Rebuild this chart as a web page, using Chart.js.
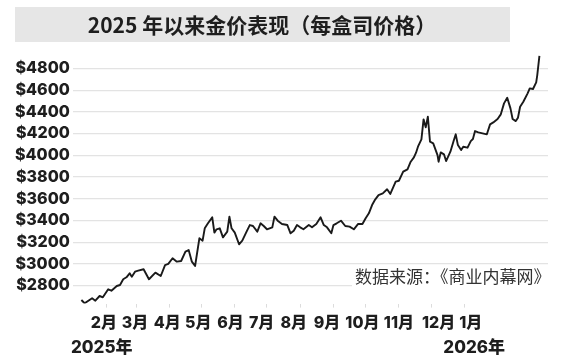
<!DOCTYPE html>
<html lang="zh">
<head>
<meta charset="utf-8">
<title>2025 年以来金价表现</title>
<script src="https://cdn.jsdelivr.net/npm/chart.js@4.4.1/dist/chart.umd.min.js"></script>
<style>
  html, body { margin: 0; padding: 0; background: #ffffff; }
  #wrap { position: relative; width: 579px; height: 359px; }
</style>
</head>
<body>
<div id="wrap"><canvas id="goldChart"></canvas></div>
<script>
/* =========================================
   DATA (days since 2025-01-01, USD / oz)
   ========================================= */

const days = [
  8, 11, 18, 21, 25, 28, 33, 36, 41, 44, 47, 50, 53, 55, 58, 61, 66, 71, 77, 82,
  86, 89, 93, 97, 101, 105, 108, 111, 114, 118, 121, 123, 126, 130, 132, 134, 137, 140, 144, 146,
  148, 151, 155, 158, 162, 165, 168, 172, 175, 178, 181, 186, 188, 191, 195, 200, 203, 206, 209, 212,
  215, 220, 223, 227, 231, 234, 237, 241, 243, 246, 250, 254, 258, 262, 266, 270, 273, 276, 279, 282,
  285, 289, 293, 296, 301, 304, 308, 312, 315, 318, 320, 322, 325, 327, 329, 331, 333, 336, 340, 341,
  343, 346, 348, 352, 355, 357, 359, 362, 364, 368, 371, 373, 375, 378, 382, 386, 389, 392, 396, 399,
  402, 405, 408, 410, 413, 415, 417, 420, 424, 426, 429, 432, 433, 435
];

const prices = [
  2668, 2638, 2684, 2662, 2705, 2693, 2767, 2754, 2797, 2806, 2859, 2877, 2914, 2883, 2929, 2938, 2951, 2859, 2920, 2889,
  2990, 3000, 3052, 3021, 3027, 3113, 3128, 3021, 2981, 3236, 3214, 3328, 3374, 3429, 3288, 3319, 3328, 3245, 3297, 3435,
  3328, 3288, 3181, 3214, 3297, 3358, 3349, 3297, 3374, 3349, 3319, 3337, 3435, 3398, 3368, 3358, 3282, 3306, 3358, 3337,
  3319, 3358, 3337, 3368, 3429, 3358, 3337, 3282, 3358, 3374, 3398, 3349, 3343, 3319, 3368, 3368, 3420, 3466, 3542, 3595,
  3634, 3650, 3687, 3644, 3757, 3766, 3849, 3871, 3941, 3981, 4024, 4085, 4147, 4331, 4257, 4355, 4125, 4110, 4002, 3941,
  4027, 4009, 3947, 4033, 4131, 4193, 4094, 4048, 4079, 4070, 4131, 4150, 4223, 4211, 4202, 4193, 4285, 4303, 4334, 4377,
  4478, 4530, 4432, 4334, 4315, 4346, 4447, 4493, 4570, 4616, 4610, 4671, 4738, 4916
];

// month tick marks (first day of each month, days since 2025-01-01)
const monthDays = [31, 59, 90, 120, 151, 181, 212, 243, 273, 304, 334, 365];
// where the month names sit in the original (a bit off the tick marks)
const labelDays = [29, 58, 88, 117, 147, 176, 206, 237, 270, 304, 341, 371];
const monthLabels = ["2月", "3月", "4月", "5月", "6月", "7月", "8月", "9月", "10月", "11月", "12月", "1月"];

const priceTicks = [2800, 3000, 3200, 3400, 3600, 3800, 4000, 4200, 4400, 4600, 4800];

const titleText = "2025 年以来金价表现（每盒司价格）";
const sourceText = "数据来源：《商业内幕网》";
const yearLabels = ["2025年", "2026年"];

/* =========================================
   DECORATION PLUGIN (title bar, source, years)
   ========================================= */

const decorPlugin = {
  id: "decor",
  beforeDraw(chart) {
    const ctx = chart.ctx;
    ctx.save();
    ctx.fillStyle = "#e6e6e6";
    ctx.fillRect(15, 7, 495, 35);
    ctx.fillStyle = "#1e1e1e";
    ctx.font = "bold 21px 'Noto Sans CJK SC', sans-serif";
    ctx.textAlign = "center";
    ctx.textBaseline = "middle";
    ctx.fillText(titleText, 262, 25);
    ctx.restore();
  },
  afterDatasetsDraw(chart) {
    const ctx = chart.ctx;
    const area = chart.chartArea;
    ctx.save();
    // white box behind the source note
    ctx.fillStyle = "#ffffff";
    ctx.fillRect(352, 266, area.right - 352 + 1, 24);
    ctx.fillStyle = "#333333";
    ctx.font = "17px 'Noto Sans CJK SC', sans-serif";
    ctx.textAlign = "left";
    ctx.textBaseline = "middle";
    ctx.fillText(sourceText, 355, 277);

    ctx.fillStyle = "#1e1e1e";
    ctx.font = "800 17px Inter, 'Noto Sans CJK SC', sans-serif";
    ctx.textAlign = "left";
    ctx.fillText(yearLabels[0], 71, 348);
    ctx.textAlign = "right";
    ctx.fillText(yearLabels[1], 505, 348);
    ctx.restore();
  },
};

/* =========================================
   CHART
   ========================================= */

function renderGoldChart() {
  const ctx = document.getElementById("goldChart");

  const points = days.map((d, i) => ({ x: d, y: prices[i] }));

  new Chart(ctx, {
    type: "line",
    data: {
      datasets: [
        {
          label: "金价",
          data: points,
          borderColor: "#1a1a1a",
          borderWidth: 1.9,
          pointRadius: 0,
          tension: 0,
          fill: false,
          borderJoinStyle: "round",
        },
      ],
    },
    options: {
      responsive: true,
      maintainAspectRatio: false,
      animation: false,
      layout: {
        padding: { top: 51, right: 31, bottom: 0, left: 0 },
      },
      plugins: {
        legend: { display: false },
        tooltip: { enabled: false },
      },
      scales: {
        // tick marks only
        x: {
          type: "linear",
          min: 0,
          max: 443,
          afterBuildTicks: (scale) => {
            scale.ticks = monthDays.map((v) => ({ value: v }));
          },
          afterFit: (scale) => {
            scale.height = 4;
          },
          border: { display: false },
          grid: {
            drawOnChartArea: false,
            drawTicks: true,
            tickLength: 4,
            color: "#dcdcdc",
          },
          ticks: { display: false },
        },
        // month names
        xLabels: {
          type: "linear",
          position: "bottom",
          min: 0,
          max: 443,
          afterBuildTicks: (scale) => {
            scale.ticks = labelDays.map((v) => ({ value: v }));
          },
          afterFit: (scale) => {
            scale.height = 51.4;
          },
          border: { display: false },
          grid: { display: false, drawTicks: false },
          ticks: {
            color: "#1e1e1e",
            padding: 6,
            maxRotation: 0,
            autoSkip: false,
            font: { family: "Inter, 'Noto Sans CJK SC', sans-serif", size: 16, weight: "800" },
            callback: function (value) {
              const idx = labelDays.indexOf(value);
              return idx >= 0 ? monthLabels[idx] : "";
            },
          },
        },
        y: {
          min: 2635,
          max: 4960,
          afterBuildTicks: (scale) => {
            scale.ticks = priceTicks.map((v) => ({ value: v }));
          },
          afterFit: (scale) => {
            scale.width = 72.8;
          },
          border: { display: false },
          grid: {
            color: "#e3e3e3",
            lineWidth: 1.2,
            drawTicks: false,
          },
          ticks: {
            color: "#1e1e1e",
            padding: 3,
            font: { family: "Inter, sans-serif", size: 16, weight: "800" },
            callback: function (value) {
              return "$" + value;
            },
          },
        },
      },
    },
    plugins: [decorPlugin],
  });
}

renderGoldChart();
</script>
</body>
</html>
